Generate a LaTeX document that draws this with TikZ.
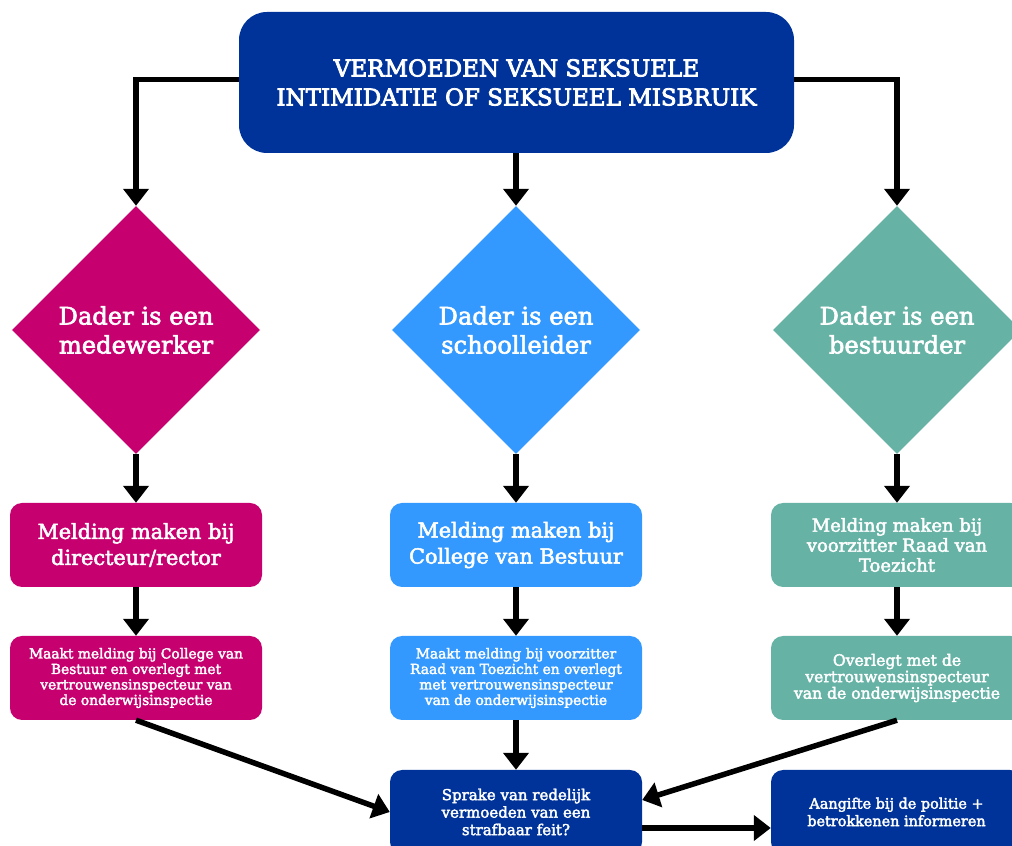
\documentclass[tikz,border=0pt]{standalone}
\usepackage{fontspec}
\usetikzlibrary{shapes.geometric,arrows.meta,calc}
\newfontfamily\bree[FakeBold=2.5]{DejaVu Serif}
\newfontfamily\breeb[FakeBold=3.5]{DejaVu Serif}
\definecolor{navy}{RGB}{0,51,153}
\definecolor{mag}{RGB}{199,0,111}
\definecolor{sky}{RGB}{51,153,255}
\definecolor{teal}{RGB}{102,179,166}
\tikzset{
  x=1pt,y=1pt,
  dia/.style={diamond,minimum width=248pt,minimum height=248pt,inner sep=0pt,text=white,align=center,font=\bree\fontsize{24.2}{29}\selectfont},
  mbox/.style={rounded corners=12pt,minimum width=252pt,minimum height=84pt,inner sep=2pt,text=white,align=center,font=\bree\fontsize{20.8}{26}\selectfont},
  obox/.style={rounded corners=12pt,minimum width=252pt,minimum height=84pt,inner sep=2pt,text=white,align=center,font=\bree\fontsize{13.8}{15.5}\selectfont},
  dbox/.style={fill=navy,rounded corners=12pt,minimum width=252pt,minimum height=84pt,inner sep=2pt,text=white,align=center,font=\bree\fontsize{15}{17.5}\selectfont},
  arr/.style={line width=5.5pt,-{Triangle[width=25pt,length=17pt]}},
}
\begin{document}
\begin{tikzpicture}
\useasboundingbox (0,0) rectangle (1012,846);
\clip (0,0) rectangle (1012,846);
% top
\node[fill=navy,rounded corners=28pt,minimum width=555pt,minimum height=141pt,text=white,align=center,font=\breeb\fontsize{23}{29}\selectfont] (top) at (516.5,763.5) {VERMOEDEN VAN SEKSUELE\\INTIMIDATIE OF SEKSUEEL MISBRUIK};
% diamonds
\node[dia,fill=mag] (d1) at (136,516) {Dader is een\\medewerker};
\node[dia,fill=sky] (d2) at (516,516) {Dader is een\\schoolleider};
\node[dia,fill=teal] (d3) at (897,516) {Dader is een\\bestuurder};
% melding boxes
\node[mbox,fill=mag] (m1) at (136,301) {Melding maken bij\\directeur/rector};
\node[mbox,fill=sky] (m2) at (516,301) {Melding maken bij\\College van Bestuur};
\node[mbox,fill=teal,font=\bree\fontsize{18}{20}\selectfont] (m3) at (897,301) {Melding maken bij\\voorzitter Raad van\\Toezicht};
% lower boxes
\node[obox,fill=mag] (o1) at (136,168) {Maakt melding bij College van\\Bestuur en overlegt met\\vertrouwensinspecteur van\\de onderwijsinspectie};
\node[obox,fill=sky] (o2) at (516,168) {Maakt melding bij voorzitter\\Raad van Toezicht en overlegt\\met vertrouwensinspecteur\\van de onderwijsinspectie};
\node[obox,fill=teal,font=\bree\fontsize{15.6}{16.5}\selectfont] (o3) at (897,168) {Overlegt met de\\vertrouwensinspecteur\\van de onderwijsinspectie};
% bottom
\node[dbox] (q) at (516,34) {Sprake van redelijk\\vermoeden van een\\strafbaar feit?};
\node[dbox,minimum width=251pt,font=\bree\fontsize{14.4}{17.5}\selectfont] (a) at (896.5,34) {Aangifte bij de politie +\\betrokkenen informeren};
% connectors
\draw[arr] ([yshift=3pt]top.west) -| (d1.north);
\draw[arr] (top.south -| d2.north) -- (d2.north);
\draw[arr] ([yshift=3pt]top.east) -| (d3.north);
\draw[arr] (d1.south) -- (m1.north);
\draw[arr] (d2.south) -- (m2.north);
\draw[arr] (d3.south) -- (m3.north);
\draw[arr] (m1.south) -- (o1.north);
\draw[arr] (m2.south) -- (o2.north);
\draw[arr] (m3.south) -- (o3.north);
\draw[arr] (o1.south) -- (q.west);
\draw[arr] (o2.south) -- (q.north);
\draw[arr] (o3.south) -- ([yshift=12pt]q.east);
\draw[arr] ([yshift=-16pt]q.east) -- ([yshift=-16pt]a.west);
\end{tikzpicture}
\end{document}
